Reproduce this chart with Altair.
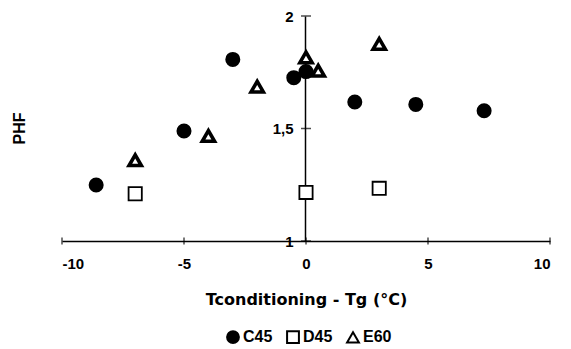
import altair as alt
import pandas as pd

# Data
c45_x = [-8.6, -5.0, -3.0, -0.5, 0.0, 2.0, 4.5, 7.3]
c45_y = [1.249, 1.489, 1.807, 1.726, 1.753, 1.618, 1.607, 1.579]
d45_x = [-7.0, 0.0, 3.0]
d45_y = [1.21, 1.216, 1.234]
e60_x = [-7.0, -4.0, -2.0, 0.0, 0.5, 3.0]
e60_y = [1.359, 1.467, 1.686, 1.816, 1.757, 1.876]

series = ["C45", "D45", "E60"]
x_ticks = [-10, -5, 0, 5, 10]
y_ticks = [1, 1.5, 2]

rows = []
for name, xs, ys in [("C45", c45_x, c45_y), ("D45", d45_x, d45_y), ("E60", e60_x, e60_y)]:
    for a, b in zip(xs, ys):
        rows.append({"x": a, "y": b, "series": name})
df = pd.DataFrame(rows)
xt = pd.DataFrame({"x": x_ticks, "y": [y_ticks[0]] * len(x_ticks)})
yt = pd.DataFrame({"x": [0] * len(y_ticks), "y": y_ticks})

FONT = "Liberation Sans"
TFONT = "DejaVu Sans"

xscale = alt.Scale(domain=[-10, 10], nice=False, zero=False)
yscale = alt.Scale(domain=[1, 2], nice=False, zero=False)

X = alt.X("x:Q", scale=xscale, title="Tconditioning - Tg (°C)",
          axis=alt.Axis(values=x_ticks, ticks=False, grid=False,
                        domainColor="black", domainWidth=1.5,
                        labelExpr="toString(datum.value)",
                        labelFont=FONT, labelFontSize=15, labelFontWeight="bold",
                        labelColor="black", labelPadding=15,
                        titleFont=TFONT, titleFontSize=16, titleFontWeight="bold",
                        titleColor="black", titleY=50, titleBaseline="top"))
Y = alt.Y("y:Q", scale=yscale, title="PHF",
          axis=alt.Axis(values=y_ticks, ticks=False, grid=False, offset=-243,
                        domainColor="black", domainWidth=1.5,
                        labelFont=FONT, labelFontSize=15, labelFontWeight="bold",
                        labelColor="black", labelPadding=12, labelBaseline="middle",
                        labelExpr="replace(toString(datum.value), '.', ',')",
                        titleFont=FONT, titleFontSize=16, titleFontWeight="bold",
                        titleColor="black", titleAngle=270, titleX=-286, titleY=112,
                        titleAlign="center", titleBaseline="middle"))

leg = alt.Legend(title=None, orient="none", direction="horizontal",
                 legendX=163, legendY=313, labelFont=FONT,
                 labelFontSize=16, labelFontWeight="bold",
                 labelColor="black", symbolSize=140, symbolStrokeWidth=2,
                 labelOffset=2, columnPadding=10)

enc = dict(
    x=X,
    y=Y,
    shape=alt.Shape("series:N", scale=alt.Scale(domain=series, range=["circle", "square", "triangle-up"]),
                    legend=leg),
    fill=alt.Fill("series:N", scale=alt.Scale(domain=series, range=["black", "white", "white"]),
                  legend=leg),
    stroke=alt.Stroke("series:N", scale=alt.Scale(domain=series, range=["black", "black", "black"]),
                      legend=leg),
)

pts_main = alt.Chart(df).transform_filter(alt.datum.series != "E60").mark_point(
    filled=True, size=175, opacity=1, strokeWidth=1.8
).encode(**enc)

pts_tri = alt.Chart(df).transform_filter(alt.datum.series == "E60").mark_point(
    filled=True, size=150, opacity=1, strokeWidth=3.6
).encode(**enc)

xticks_layer = alt.Chart(xt).mark_tick(orient="vertical", size=7, thickness=1.5, color="black").encode(
    x=X, y=Y,
)
yticks_layer = alt.Chart(yt).mark_tick(orient="horizontal", size=10, thickness=1.5, color="black").encode(
    x=X, y=Y,
)

chart = alt.layer(xticks_layer, yticks_layer, pts_main, pts_tri).properties(
    width=488, height=225,
    padding={"left": 54, "top": 8, "right": 13, "bottom": 108},
    autosize=alt.AutoSizeParams(type="none"),
).configure(background="white").configure_view(stroke=None).configure_axis(
    labelFontWeight="bold", labelFont=FONT, labelColor="black"
)

chart.save("out.html", embed_options={"renderer": "svg", "actions": False})
